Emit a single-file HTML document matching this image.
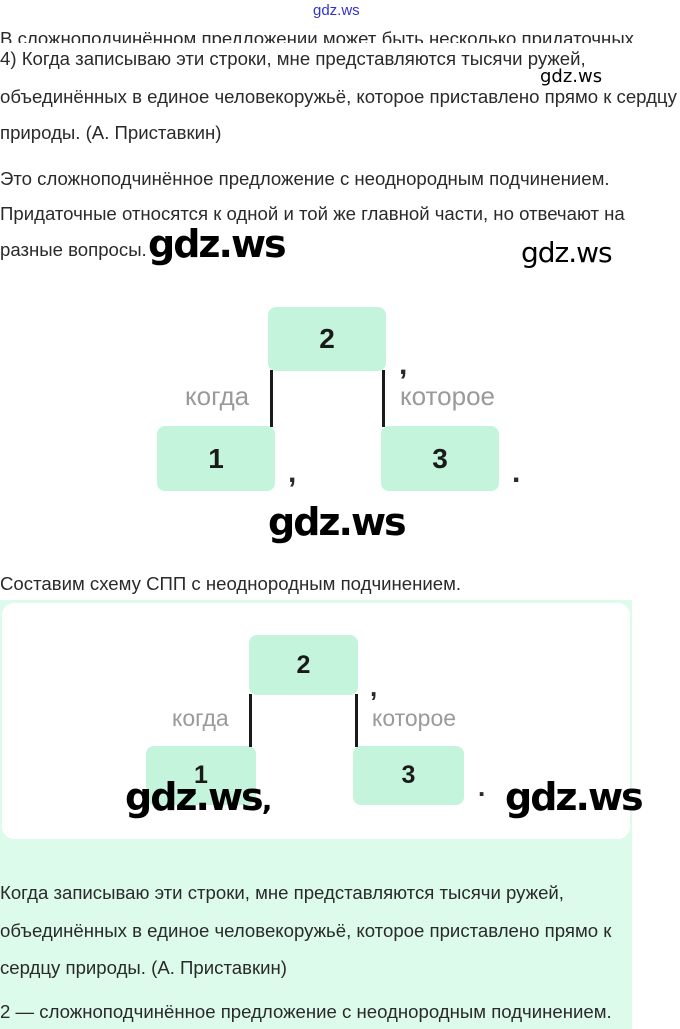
<!DOCTYPE html>
<html><head><meta charset="utf-8"><style>
body{margin:0;width:680px;height:1029px;background:#fff;position:relative;overflow:hidden;font-family:"Liberation Sans","DejaVu Sans",sans-serif;color:#2a2a2a}
.a{position:absolute;white-space:nowrap}
.t{font-size:18.6px;letter-spacing:0}
.b{position:absolute;background:#c4f5dc;border-radius:8px;display:flex;align-items:center;justify-content:center;font-weight:bold;color:#1a1a1a}
.l{position:absolute;background:#1a1a1a;width:3px}
.g{position:absolute;color:#9a9a9a;white-space:nowrap}
.w{position:absolute;font-weight:bold;color:#000;white-space:nowrap;font-family:"DejaVu Sans",sans-serif;letter-spacing:-2px}
</style></head><body>
<div class="a" style="left:313px;top:2px;font-size:15px;color:#3333cc">gdz.ws</div>
<div class="a t" style="left:0;top:28px;height:15px;overflow:hidden">В сложноподчинённом предложении может быть несколько придаточных</div>
<div class="a t" style="left:0;top:48px">4) Когда записываю эти строки, мне представляются тысячи ружей,</div>
<div class="a" style="left:540px;top:66px;font-size:18px;color:#000;font-family:'DejaVu Sans',sans-serif">gdz.ws</div>
<div class="a t" style="left:0;top:86px">объединённых в единое человекоружьё, которое приставлено прямо к сердцу</div>
<div class="a t" style="left:0;top:122px">природы. (А. Приставкин)</div>
<div class="a t" style="left:0;top:168px">Это сложноподчинённое предложение с неоднородным подчинением.</div>
<div class="a t" style="left:0;top:203px">Придаточные относятся к одной и той же главной части, но отвечают на</div>
<div class="a t" style="left:0;top:239px">разные вопросы.</div>
<div class="w" style="left:148px;top:222px;font-size:38px">gdz.ws</div>
<div class="w" style="left:521px;top:236px;font-size:28px;font-weight:normal;letter-spacing:-1px">gdz.ws</div>

<div class="b" style="left:268px;top:307px;width:118px;height:64px;font-size:28px">2</div>
<div class="b" style="left:157px;top:426px;width:118px;height:65px;font-size:28px">1</div>
<div class="b" style="left:381px;top:426px;width:118px;height:65px;font-size:28px">3</div>
<div class="l" style="left:270px;top:370px;height:57px"></div>
<div class="l" style="left:382px;top:370px;height:57px"></div>
<div class="g" style="left:185px;top:381px;font-size:26px">когда</div>
<div class="g" style="left:400px;top:381px;font-size:26px">которое</div>
<div class="a" style="left:399px;top:348px;font-size:30px;font-weight:bold">,</div>
<div class="a" style="left:288px;top:456px;font-size:30px;font-weight:bold">,</div>
<div class="a" style="left:512px;top:456px;font-size:30px;font-weight:bold">.</div>
<div class="w" style="left:268px;top:500px;font-size:38px">gdz.ws</div>

<div class="a t" style="left:0;top:573px">Составим схему СПП с неоднородным подчинением.</div>
<div style="position:absolute;left:0;top:600px;width:632px;height:429px;background:#dcfbea"></div>
<div style="position:absolute;left:2px;top:603px;width:628px;height:236px;background:#fff;border-radius:12px"></div>
<div class="b" style="left:249px;top:635px;width:109px;height:60px;font-size:25px">2</div>
<div class="b" style="left:146px;top:746px;width:110px;height:59px;font-size:25px">1</div>
<div class="b" style="left:353px;top:746px;width:111px;height:59px;font-size:25px">3</div>
<div class="l" style="left:249px;top:694px;height:53px"></div>
<div class="l" style="left:355px;top:694px;height:53px"></div>
<div class="g" style="left:172px;top:705px;font-size:23px">когда</div>
<div class="g" style="left:372px;top:705px;font-size:23px">которое</div>
<div class="a" style="left:370px;top:672px;font-size:26px;font-weight:bold">,</div>
<div class="a" style="left:478px;top:772px;font-size:26px;font-weight:bold">.</div>
<div class="w" style="left:125px;top:775px;font-size:38px">gdz.ws<span style="font-size:28px">,</span></div>
<div class="w" style="left:505px;top:775px;font-size:38px">gdz.ws</div>

<div class="a t" style="left:0;top:882px">Когда записываю эти строки, мне представляются тысячи ружей,</div>
<div class="a t" style="left:0;top:920px">объединённых в единое человекоружьё, которое приставлено прямо к</div>
<div class="a t" style="left:0;top:957px">сердцу природы. (А. Приставкин)</div>
<div class="a t" style="left:0;top:1001px">2 — сложноподчинённое предложение с неоднородным подчинением.</div>
</body></html>
